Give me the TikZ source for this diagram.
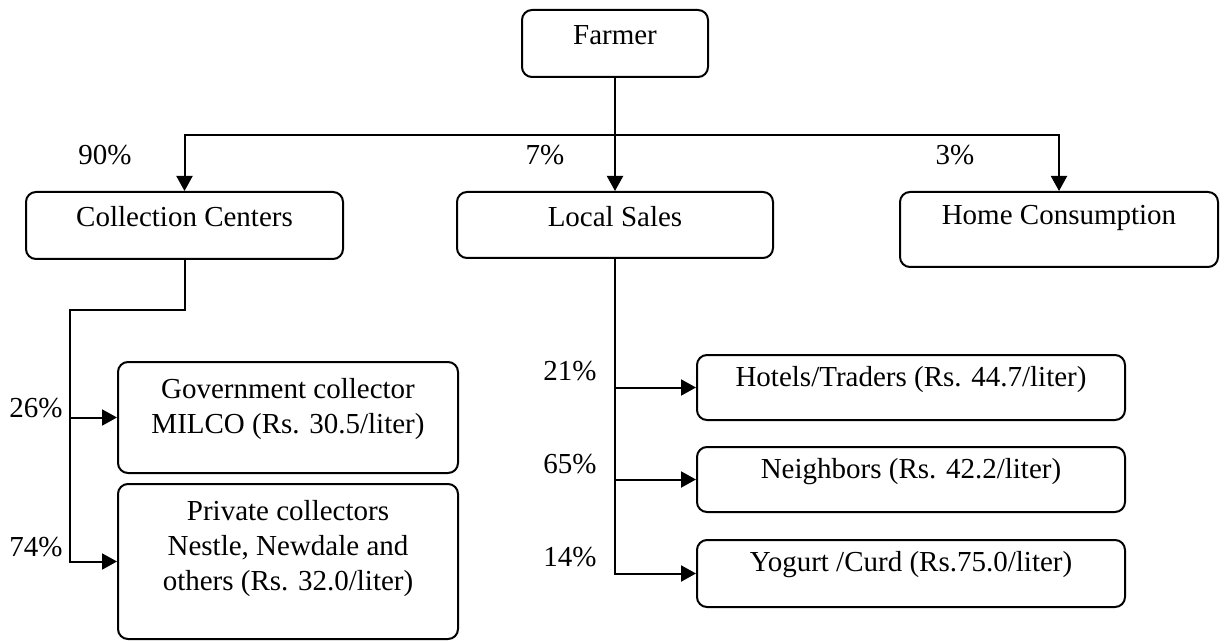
\documentclass[tikz,border=0pt]{standalone}
\usepackage{fontspec}
\setmainfont{Liberation Serif}
\usetikzlibrary{arrows.meta}
\begin{document}
\begin{tikzpicture}[x=0.5pt,y=-0.5pt,
  box/.style={draw, line width=1pt, rounded corners=5pt, inner sep=0pt},
  txt/.style={anchor=base, inner sep=0pt, font=\fontsize{14.5}{17.5}\selectfont},
  pct/.style={inner sep=0pt, font=\fontsize{14.5}{17.5}\selectfont},
  line/.style={line width=1pt},
  arr/.style={line width=1pt, -{Triangle[length=7.5pt,width=8pt]}}]
\useasboundingbox (0,0) rectangle (1229,641);
% boxes
\node[box, minimum width=93pt, minimum height=33.5pt] (farmer) at (615,43.5) {};
\node[box, minimum width=158.5pt, minimum height=33.5pt] (cc) at (184.5,225.5) {};
\node[box, minimum width=158pt, minimum height=33pt] (ls) at (615,225) {};
\node[box, minimum width=159pt, minimum height=37.5pt] (home) at (1059,229.5) {};
\node[box, minimum width=170pt, minimum height=55.5pt] (gov) at (288,417.5) {};
\node[box, minimum width=170pt, minimum height=77.5pt] (priv) at (288,561.5) {};
\node[box, minimum width=214pt, minimum height=32.5pt] (hot) at (911,387.5) {};
\node[box, minimum width=214pt, minimum height=32.5pt] (nei) at (911,479.5) {};
\node[box, minimum width=214pt, minimum height=33.5pt] (yog) at (911,573.5) {};
% box texts
\node[txt] (tfarmer) at (615,45) {Farmer};
\node[txt] (tcc) at (184.5,227) {Collection Centers};
\node[txt] (tls) at (615,227) {Local Sales};
\node[txt] (thome) at (1059,225) {Home Consumption};
\node[txt] (tgov) at (288,398) {\begin{tabular}[t]{@{}c@{}}Government collector\\MILCO (Rs. 30.5/liter)\end{tabular}};
\node[txt] (tpriv) at (288,520) {\begin{tabular}[t]{@{}c@{}}Private collectors\\Nestle, Newdale and\\others (Rs. 32.0/liter)\end{tabular}};
\node[txt] (thot) at (911,386) {Hotels/Traders (Rs. 44.7/liter)};
\node[txt] (tnei) at (911,478) {Neighbors (Rs. 42.2/liter)};
\node[txt] (tyog) at (911,571) {Yogurt /Curd (Rs.75.0/liter)};
% percentages
\node[pct] (p90) at (105,155) {90\%};
\node[pct] (p7) at (545,155) {7\%};
\node[pct] (p3) at (955,155) {3\%};
\node[pct] (p26) at (36,408) {26\%};
\node[pct] (p74) at (36,547) {74\%};
\node[pct] (p21) at (570,371) {21\%};
\node[pct] (p65) at (570,464) {65\%};
\node[pct] (p14) at (570,557) {14\%};
% connectors
\coordinate (bus) at (615,135);
\draw[line] (farmer.south) -- (bus);
\draw[arr] (bus) -| (cc.north);
\draw[arr] (bus) -| (home.north);
\draw[arr] (bus) -- (ls.north);
\coordinate (cj) at (70,310);
\draw[arr] (cc.south) |- (cj) |- (priv.west);
\draw[arr] (cj |- gov.west) -- (gov.west);
\draw[arr] (ls.south) |- (yog.west);
\draw[arr] (ls.south |- hot.west) -- (hot.west);
\draw[arr] (ls.south |- nei.west) -- (nei.west);
\end{tikzpicture}
\end{document}
